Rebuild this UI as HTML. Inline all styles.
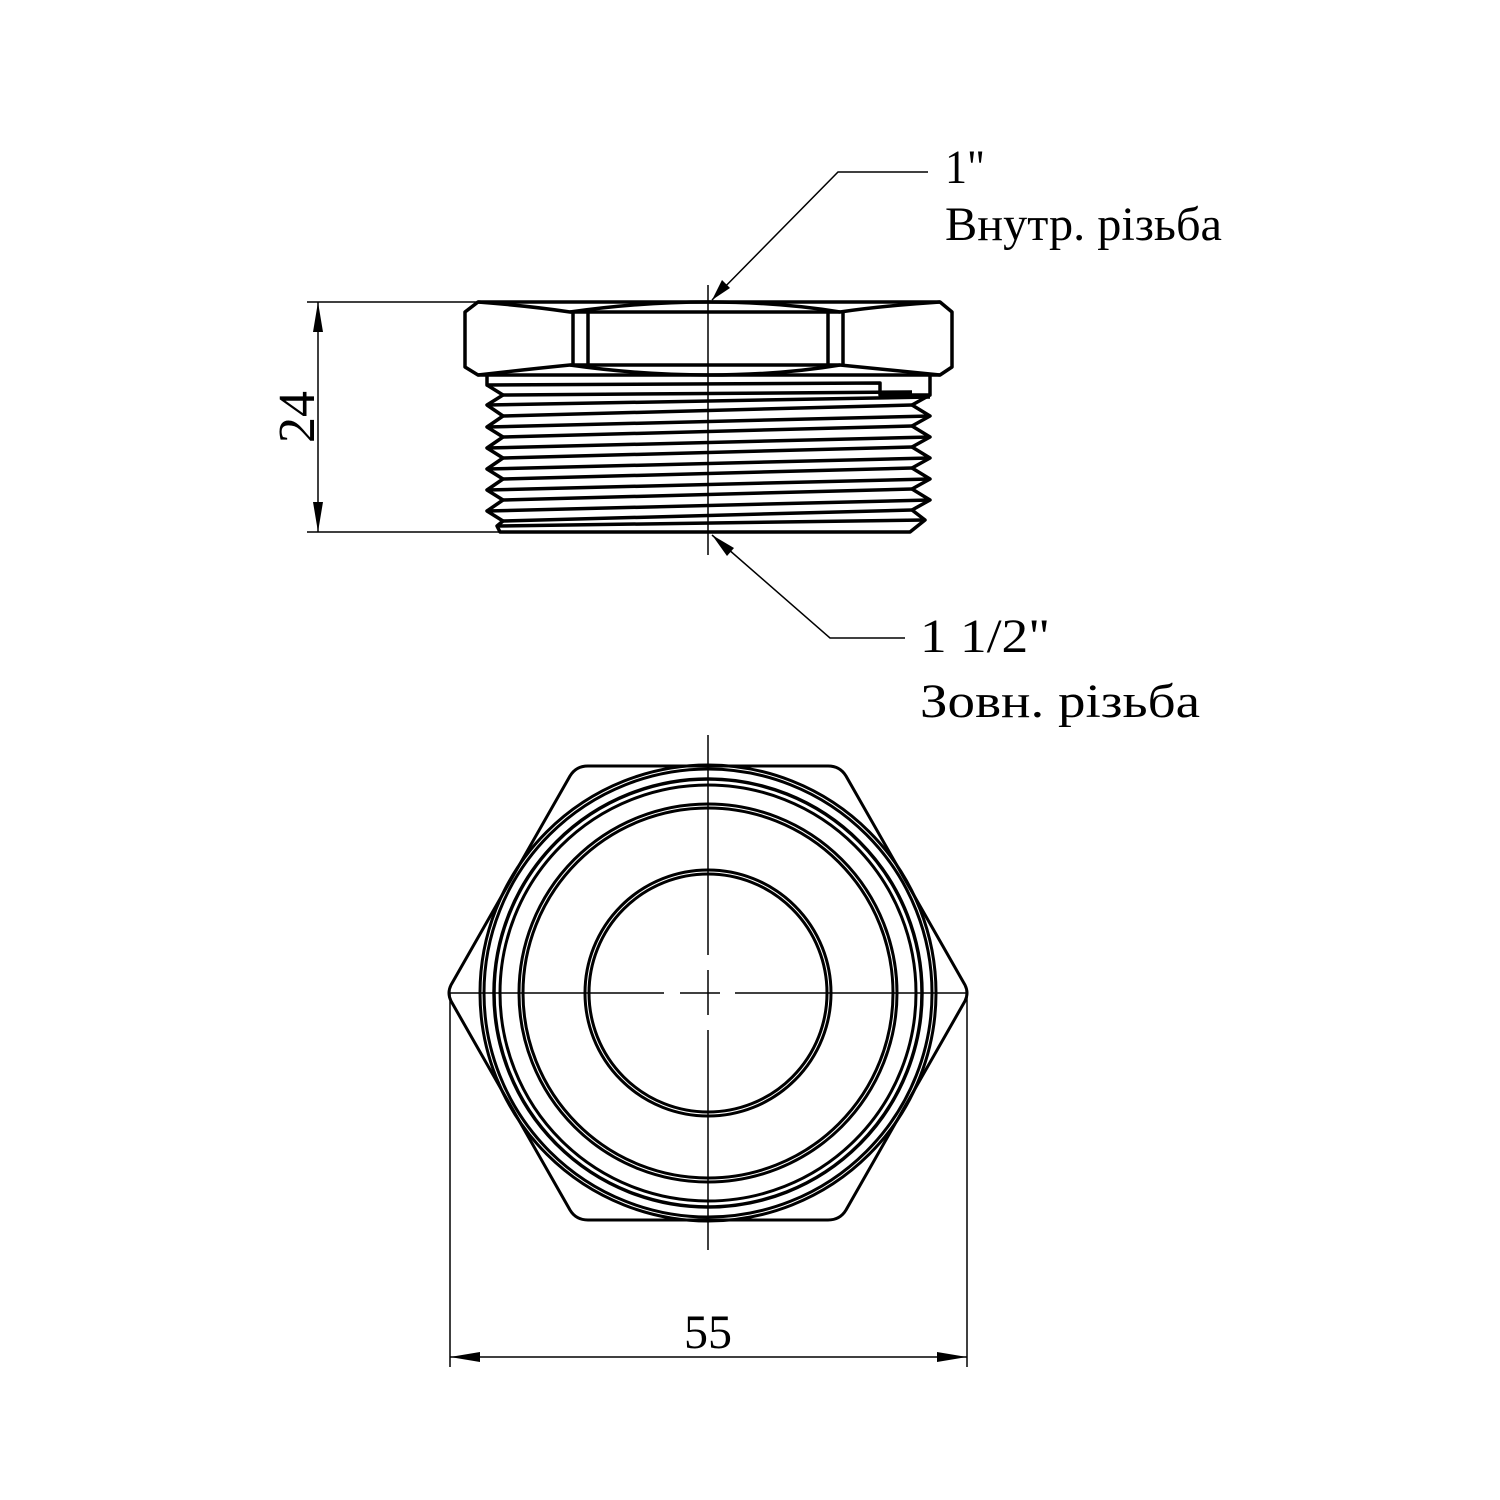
<!DOCTYPE html>
<html><head><meta charset="utf-8"><style>
html,body{margin:0;padding:0;background:#fff;}
svg{display:block}
text{font-family:"Liberation Serif",serif;fill:#000}
</style></head><body>
<svg width="1500" height="1500" viewBox="0 0 1500 1500" xmlns="http://www.w3.org/2000/svg">
<g fill="none" stroke="#000" stroke-width="1.5">
<line x1="307" y1="302" x2="482" y2="302"/>
<line x1="307" y1="532" x2="500" y2="532"/>
<line x1="318" y1="302" x2="318" y2="532"/>
<line x1="708" y1="285" x2="708" y2="555"/>
<polyline points="712,300 838,172 928,172"/>
<polyline points="712,535 830,638 905,638"/>
<line x1="708" y1="735" x2="708" y2="955"/>
<line x1="708" y1="970" x2="708" y2="1015"/>
<line x1="708" y1="1030" x2="708" y2="1250"/>
<line x1="448" y1="993" x2="664" y2="993"/>
<line x1="680" y1="993" x2="720" y2="993"/>
<line x1="735" y1="993" x2="968" y2="993"/>
<line x1="450" y1="993" x2="450" y2="1367"/>
<line x1="967" y1="993" x2="967" y2="1367"/>
<line x1="450" y1="1357" x2="967" y2="1357"/>
</g>
<g fill="#000">
<polygon points="318,302 313,332 323,332"/>
<polygon points="318,532 313,502 323,502"/>
<polygon points="712,300 722,280 730,288"/>
<polygon points="712,535 734,548 727,556"/>
<polygon points="450,1357 480,1352 480,1362"/>
<polygon points="967,1357 937,1352 937,1362"/>
</g>
<g fill="none" stroke="#000" stroke-width="3.5" stroke-linejoin="round">
<path d="M478,302 L940,302 L952,312 L952,367 L940,375 L478,375 L465,367 L465,312 Z"/>
<path d="M478,302 Q530,306 570,312 L840,312 Q880,306 940,302"/>
<path d="M478,375 Q530,369 570,365 L840,365 Q880,369 940,375"/>
<path d="M570,312 Q640,302 708,302 Q780,302 840,312"/>
<path d="M570,365 Q640,375 708,375 Q780,375 840,365"/>
<line x1="573" y1="312" x2="573" y2="365"/><line x1="588" y1="312" x2="588" y2="365"/>
<line x1="828" y1="312" x2="828" y2="365"/><line x1="843" y1="312" x2="843" y2="365"/>
<path d="M487,375 L487,385 L880,383 L880,395 L930,395 L930,375"/>
<path stroke-width="3.5" d="M487,385 L503,395 L487,405 L503,416 L487,427 L503,437 L487,448 L503,458 L487,469 L503,479 L487,490 L503,500 L487,511 L503,521 L497,526 L500,532 L910,532 L925,520 L912,510 L930,500 L912,489 L930,479 L912,468 L930,458 L912,447 L930,437 L912,426 L930,416 L912,405 L930,395"/>
<g stroke-width="3.5">
<line x1="503" y1="395" x2="912" y2="392"/>
<line x1="487" y1="405" x2="930" y2="397"/>
<line x1="503" y1="416" x2="912" y2="405"/>
<line x1="487" y1="427" x2="930" y2="416"/>
<line x1="503" y1="437" x2="912" y2="426"/>
<line x1="487" y1="448" x2="930" y2="437"/>
<line x1="503" y1="458" x2="912" y2="447"/>
<line x1="487" y1="469" x2="930" y2="458"/>
<line x1="503" y1="479" x2="912" y2="468"/>
<line x1="487" y1="490" x2="930" y2="479"/>
<line x1="503" y1="500" x2="912" y2="489"/>
<line x1="487" y1="511" x2="930" y2="500"/>
<line x1="503" y1="521" x2="912" y2="510"/>
<line x1="497" y1="526" x2="925" y2="520"/>
</g>
<path stroke-width="3" d="M588,766 L828,766 Q840,766 846,776 L965,985 Q969,993 965,1001 L846,1210 Q840,1220 828,1220 L588,1220 Q576,1220 570,1210 L451,1001 Q447,993 451,985 L570,776 Q576,766 588,766 Z"/>
<circle cx="708" cy="993" r="228" stroke-width="3"/>
<circle cx="708" cy="993" r="224" stroke-width="3"/>
<circle cx="708" cy="993" r="214" stroke-width="3.5"/>
<circle cx="708" cy="993" r="208" stroke-width="3"/>
<circle cx="708" cy="993" r="189" stroke-width="3"/>
<circle cx="708" cy="993" r="185" stroke-width="3"/>
<circle cx="708" cy="993" r="123" stroke-width="3"/>
<circle cx="708" cy="993" r="119" stroke-width="3"/>
</g>
<text x="945" y="183" font-size="48" textLength="40" lengthAdjust="spacingAndGlyphs">1"</text>
<text x="945" y="240" font-size="48" textLength="277" lengthAdjust="spacingAndGlyphs">Внутр. різьба</text>
<text x="920" y="652" font-size="48" textLength="130" lengthAdjust="spacingAndGlyphs">1 1/2"</text>
<text x="920" y="717" font-size="48" textLength="280" lengthAdjust="spacingAndGlyphs">Зовн. різьба</text>
<text x="708" y="1348" font-size="48" text-anchor="middle">55</text>
<text transform="translate(314,417) rotate(-90)" font-size="52" text-anchor="middle">24</text>
</svg>
</body></html>
